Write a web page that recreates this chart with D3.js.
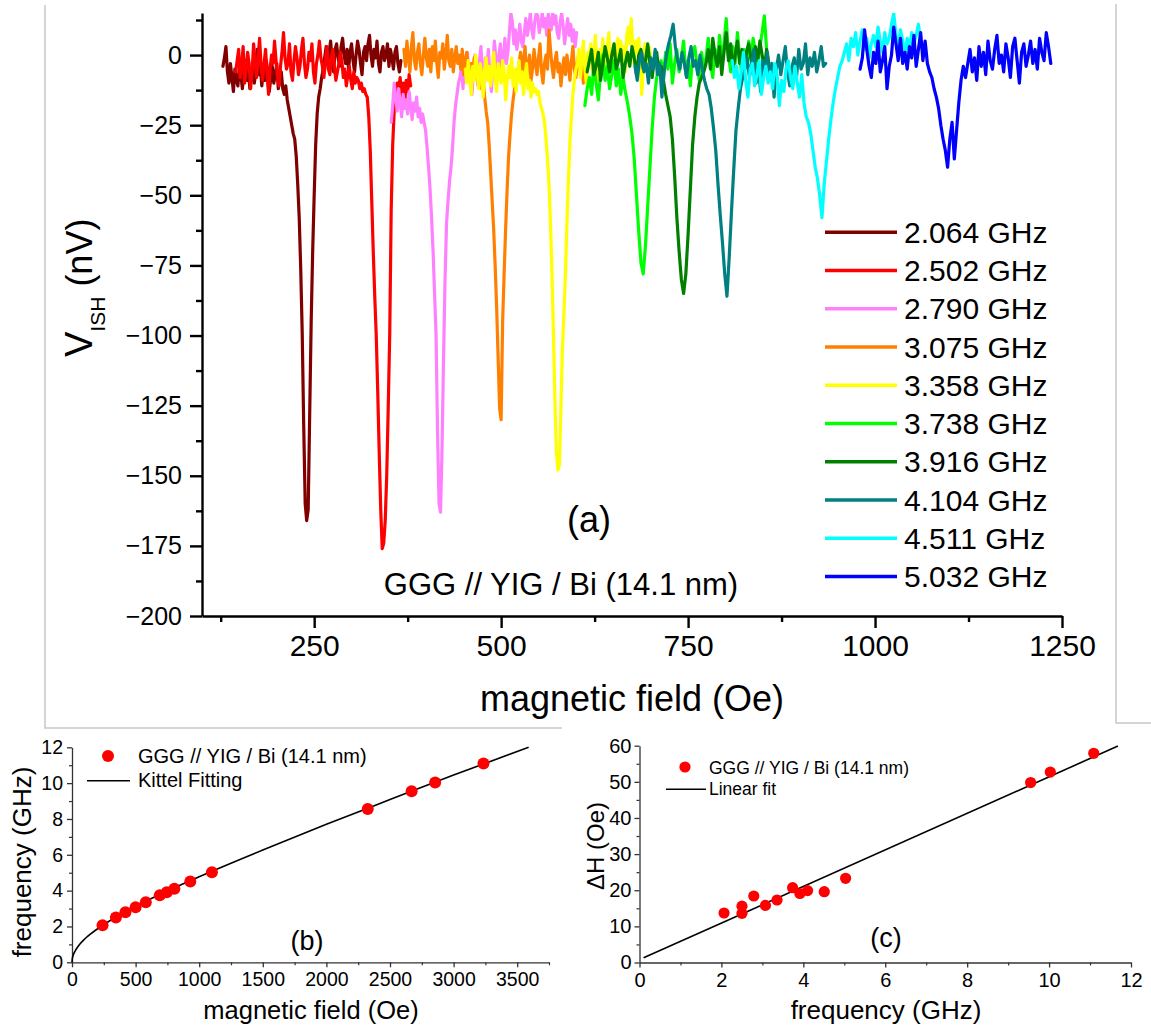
<!DOCTYPE html>
<html><head><meta charset="utf-8">
<script src="https://cdn.jsdelivr.net/npm/d3@7"></script>
<style>
body{margin:0;background:#fff;}
svg{display:block;font-family:"Liberation Sans",Arial,Helvetica,sans-serif;}
</style></head><body>
<svg id="fig" width="1151" height="1033"></svg>
<script>
// ---------------- DATA ----------------
// Panel (a): ISHE voltage spectra, one per microwave frequency
const freqLabels = ["2.064 GHz","2.502 GHz","2.790 GHz","3.075 GHz","3.358 GHz","3.738 GHz","3.916 GHz","4.104 GHz","4.511 GHz","5.032 GHz"];
// field sweep: first field (Oe) and field step (Oe) of each spectrum
const sweepStart = [128, 145, 353, 370, 452, 612, 615, 679, 809, 980];
const sweepStep  = [2, 2, 2, 2, 2, 3, 3, 3, 3, 3];
// V_ISH (nV) read along each sweep
const v2064 = [-4,-1,3,-6,-10,-3,-8,-13,-5,-9,-11,-4,-7,-12,-6,-2,-9,-5,-12,-8,-3,-10,-6,2,-7,-4,-11,-5,-9,-2,-6,-13,-8,-4,-10,-7,-3,-12,-9,-6,
 -12,-14,-11,-16,-19,-22,-25,-28,-30,-36,-46,-58,-76,-99,-132,-160,-166,-162,-128,-95,-70,-50,-32,-21,-15,-12,-8,
 -5,-1,3,-3,1,5,-2,-6,2,4,-1,-4,3,6,0,-3,2,-5,1,4,-2,-6,0,5,2,-3,-7,1,3,-2,4,7,0,-4,2,-1,5,-3,-6,1,3,-2,0,4,-4,2,-1,-5,1,3,-3,-6,-2];
const v2502 = [-6,-2,2,-8,-4,3,-10,-5,1,-3,-12,-6,4,-2,-8,-1,6,-4,-9,-3,2,-7,-14,-5,0,-3,5,-2,-8,-11,-4,1,8,-1,-5,-3,4,-6,-9,-2,3,-1,-7,-4,2,6,-3,-8,-5,1,-2,4,-6,-10,-3,0,5,-1,-4,-8,-2,3,-5,-7,-1,2,-4,-9,-6,-3,1,-2,-8,-5,-11,-7,-4,-9,-12,-6,-10,-8,
 -9,-12,-10,-13,-12,-14,-15,-22,-34,-52,-70,-86,-100,-120,-142,-162,-176,-174,-166,-150,-126,-100,-55,-32,-20,-14,-10,
 -12,-8,-15,-10,-18,-9,-13,-7,-11];
const v2790 = [-24,-18,-10,-15,-20,-12,-17,-22,-14,-19,-16,-21,-13,-18,-23,-17,-20,-15,-22,-19,-24,-21,
 -24,-27,-33,-40,-48,-58,-70,-85,-100,-135,-160,-163,-140,-108,-80,-60,-52,-45,-40,-33,-24,-18,-14,-10,
 -8,-4,-12,-2,-6,1,-9,-3,-14,-5,0,-7,-11,-2,3,-6,-10,-1,-4,2,-8,-13,-3,5,-1,-7,0,4,-5,-2,6,-3,1,
 8,15,12,4,9,2,6,11,5,3,8,13,7,10,15,9,6,12,15,14,8,11,15,10,13,7,15,12,9,15,11,14,8,6,12,15,10,4,9,13,7,11,5,9,3,8];
const v3075 = [2,-4,5,-1,-6,3,8,-2,-5,1,4,-3,-7,0,6,-1,-4,2,-6,3,-2,5,-3,-8,1,-1,4,-5,0,7,-2,-4,2,-6,-1,3,-3,0,-5,2,-7,-2,1,-4,-9,-3,-6,-1,-8,-5,-10,-7,-12,-9,
 -15,-20,-24,-32,-42,-52,-62,-75,-90,-108,-126,-130,-95,-78,-62,-48,-36,-28,-21,-16,-12,-8,-6,
 -3,1,-6,-2,3,-8,-4,0,-9,-5,2,-3,-7,-1,4,-6,-10,-3,0,-5,9,2,-4,-8,-2,1,-6,-3,-11,-5,-1,-7,0,-4,-9,-2,3,-5,-8,-3,1,-6,-2,-10,-4,-7,-3];
const v3358 = [-5,-10,-2,-8,-14,-4,-9,0,-6,-12,-3,-7,-15,-5,-1,-9,-4,-11,-6,1,-8,-13,-3,-7,-10,-2,-6,-16,-9,-4,-8,-1,-11,-5,-13,-7,-2,-10,-6,-14,-8,-3,-12,-9,-15,-10,-13,
 -12,-14,-13,-17,-19,-21,-24,-30,-37,-46,-60,-78,-100,-124,-142,-148,-146,-125,-104,-92,-78,-60,-44,-31,-22,-14,-9,-5,
 -3,2,-8,-1,5,-5,-10,1,-2,4,-6,0,7,-3,-9,2,-4,6,-1,-7,3,8,-2,-5,1,4,-4,6,2,5,-1,3,-6,7,10,4,13,2,-3,5,1,6,-2,-14,-5,4,0,-4,3,-1];
const v3738 = [-18,-12,-8,-14,-3,-10,-16,-6,0,-9,-4,-12,-7,-2,-11,-5,-14,-8,-13,
 -17,-22,-28,-37,-50,-63,-74,-78,-68,-54,-40,-26,-15,-8,-4,
 -2,-8,1,-5,4,-10,-3,2,-6,-1,5,-7,-2,-11,0,3,-4,-9,1,-5,-1,6,-3,-8,2,-4,7,-2,4,13,0,-6,3,-3,8,-1,-7,2,-4,5,-2,6,1,-5,3,8,14,2];
const v3916 = [-6,-2,2,-7,-4,1,-9,-3,3,-1,-6,0,4,-5,-2,2,-8,-3,1,-4,3,-1,-7,0,2,-5,-2,4,-3,-8,-1,1,-6,-4,-9,
 -14,-18,-22,-30,-43,-58,-70,-80,-85,-78,-64,-48,-32,-22,-15,-10,-8,-6,
 -3,2,-5,6,0,-4,3,-7,1,8,-2,4,-5,0,5,-3,2,-6,1,4,-1,-4,3,-2,5,0,-5,2,-3];
const v4104 = [-4,-9,-2,1,-6,-3,-10,-1,-5,2,-7,-3,-15,-6,0,4,7,11,3,-2,-5,1,-3,-8,-1,3,-4,-2,-7,0,-5,-9,-12,
 -14,-19,-26,-34,-46,-57,-67,-78,-86,-72,-56,-41,-27,-19,-12,-8,
 -5,-1,-8,-3,2,-10,-4,-13,-2,-6,1,-9,-3,-15,-5,0,-7,-2,3,-6,-11,-4,-1,-8,2,-5,-3,4,-7,-1,-4,1,-6,-2,3,-4,-3];
const v4511 = [-2,-8,-4,-12,-6,1,-9,-15,-5,-3,-11,-7,-2,-14,-8,-4,-10,-6,-12,-3,-7,-18,-9,-13,-5,-2,-8,-12,-4,-10,-15,-7,
 -17,-22,-24,-28,-34,-40,-44,-50,-58,-46,-38,-30,-23,-17,-12,-8,-4,-2,
 1,4,-2,6,3,8,0,5,9,2,6,-1,4,7,3,10,5,1,8,4,6,11,15,7,3,9,5,0,6,2,8,4,7,11,5,3];
const v5032 = [-5,-1,9,2,-4,-8,1,-3,5,-6,-2,3,-12,-4,0,10,4,-2,6,-3,1,-5,3,-1,7,-4,2,8,-2,5,-3,-6,
 -8,-12,-15,-19,-25,-30,-34,-40,-30,-24,-37,-27,-17,-9,-4,
 -8,-3,2,-6,-1,-9,3,-4,1,-7,5,-2,-5,2,7,-3,0,-6,4,-1,-8,3,6,-2,-10,1,4,-4,0,5,-3,2,-5,6,1,-2,8,3,-3];
const spectra = [v2064, v2502, v2790, v3075, v3358, v3738, v3916, v4104, v4511, v5032];
const xTicksA = [250, 500, 750, 1000, 1250];
const yTicksA = [-200, -175, -150, -125, -100, -75, -50, -25, 0];

// Panel (b): resonance field vs frequency
const resField = [240, 345, 420, 500, 580, 690, 745, 805, 930, 1100, 2325, 2670, 2855, 3235];
const resFreq  = [2.064, 2.502, 2.790, 3.075, 3.358, 3.738, 3.916, 4.104, 4.511, 5.032, 8.56, 9.55, 10.03, 11.09];
const kittelField = [0, 2, 10, 20, 50, 100, 150, 250, 400, 600, 800, 1000, 1500, 2000, 2500, 3000, 3590];
const kittelFreq  = [0, 0.18, 0.40, 0.57, 0.91, 1.30, 1.60, 2.11, 2.74, 3.48, 4.15, 4.78, 6.27, 7.70, 9.08, 10.45, 12.0];
const xTicksB = [0, 500, 1000, 1500, 2000, 2500, 3000, 3500];
const yTicksB = [0, 2, 4, 6, 8, 10, 12];

// Panel (c): linewidth vs frequency
const lwFreq  = [2.064, 2.502, 2.502, 2.790, 3.075, 3.358, 3.738, 3.916, 4.104, 4.511, 5.032, 9.55, 10.03, 11.09];
const lwWidth = [13.7, 15.6, 13.6, 18.4, 15.8, 17.3, 20.7, 19.1, 19.9, 19.6, 23.3, 49.8, 52.7, 57.9];
const linFitFreq  = [0.1, 11.68];
const linFitWidth = [1.3, 59.9];
const xTicksC = [0, 2, 4, 6, 8, 10, 12];
const yTicksC = [0, 10, 20, 30, 40, 50, 60];

// ---------------- STYLES ----------------
const spectraColors = ["#800000","#ff0000","#ff80ff","#ff8000","#ffff00","#00ff00","#008000","#008080","#00ffff","#0000ff"];

// ---------------- DRAW ----------------
const svg = d3.select("#fig");

// faint frame around panel (a)
const frame = svg.append("g").attr("fill","none").attr("stroke","#c8c8c8").attr("stroke-width",1.5);
frame.append("path").attr("d","M45,5V728H562");
frame.append("path").attr("d","M1116,4V723H1151");

function styleAxis(g, fontSize, sw, keepDomain, color){
  g.attr("font-family", null).attr("font-size", fontSize).attr("color", color || "#000");
  g.selectAll("line").attr("stroke-width", sw);
  g.select(".domain").attr("stroke-width", sw);
  if(!keepDomain) g.select(".domain").remove();
  g.selectAll("text").attr("fill", "#000");
  return g;
}
const plain = d3.format("d");
const minus = d => d < 0 ? "\u2212" + Math.abs(d) : String(d);
function minorBetween(ticks){ const r=[]; for(let i=0;i<ticks.length-1;i++) r.push((ticks[i]+ticks[i+1])/2); return r; }

// ===== Panel (a) =====
const xA = d3.scaleLinear().domain([100,1250]).range([202,1062]);
const yA = d3.scaleLinear().domain([-200,15]).range([616,13]);
svg.append("clipPath").attr("id","clipA").append("rect")
  .attr("x",xA.range()[0]).attr("y",yA.range()[1])
  .attr("width",xA.range()[1]-xA.range()[0]).attr("height",yA.range()[0]-yA.range()[1]);
const lineA = d3.line().x(d=>xA(d[0])).y(d=>yA(d[1]));
const gA = svg.append("g").attr("clip-path","url(#clipA)");
spectra.forEach((vals,i)=>{
  const pts = vals.map((v,j)=>[sweepStart[i]+sweepStep[i]*j, v]);
  gA.append("path").datum(pts).attr("d",lineA).attr("fill","none")
    .attr("stroke",spectraColors[i]).attr("stroke-width",3.2)
    .attr("stroke-linejoin","round").attr("stroke-linecap","round");
});
const xMinorA = [125].concat(minorBetween(xTicksA));
const yMinorA = minorBetween(yTicksA).concat([12.5]);
styleAxis(svg.append("g").attr("transform","translate(0,616)")
  .call(d3.axisBottom(xA).tickValues(xMinorA).tickSize(6).tickFormat("")), 10, 2.4, false);
styleAxis(svg.append("g").attr("transform","translate(202,0)")
  .call(d3.axisLeft(yA).tickValues(yMinorA).tickSize(6).tickFormat("")), 10, 2.4, false);
styleAxis(svg.append("g").attr("transform","translate(0,616)")
  .call(d3.axisBottom(xA).tickValues(xTicksA).tickSizeInner(12).tickSizeOuter(0).tickPadding(7).tickFormat(plain)), 30, 2.4, true);
styleAxis(svg.append("g").attr("transform","translate(202,0)")
  .call(d3.axisLeft(yA).tickValues(yTicksA).tickSizeInner(12).tickSizeOuter(0).tickPadding(8).tickFormat(minus)), 25, 2.4, true);

// y title
const yt = svg.append("text").attr("transform","translate(92,357) rotate(-90)").attr("font-size",38).attr("fill","#000");
yt.append("tspan").text("V");
yt.append("tspan").attr("font-size",21).attr("dy",13).text("ISH");
yt.append("tspan").attr("font-size",36).attr("dy",-13).text(" (nV)");
svg.append("text").attr("x",632).attr("y",711).attr("text-anchor","middle").attr("font-size",36).text("magnetic field (Oe)");
svg.append("text").attr("x",589).attr("y",532).attr("text-anchor","middle").attr("font-size",36).text("(a)");
svg.append("text").attr("x",561).attr("y",595).attr("text-anchor","middle").attr("font-size",31).text("GGG // YIG / Bi (14.1 nm)");
const legA = svg.append("g");
freqLabels.forEach((lab,i)=>{
  const y = 232.3 + 38.25*i;
  legA.append("line").attr("x1",825).attr("x2",897).attr("y1",y).attr("y2",y)
    .attr("stroke",spectraColors[i]).attr("stroke-width",3.5);
  legA.append("text").attr("x",904).attr("y",y+10.5).attr("font-size",30).text(lab);
});

// ===== Panel (b) =====
const axisGray = "#333";
const xB = d3.scaleLinear().domain([0,3750]).range([72,549]);
const yB = d3.scaleLinear().domain([0,12]).range([962.3,747.3]);
styleAxis(svg.append("g").attr("transform",`translate(0,${yB(0)})`)
  .call(d3.axisBottom(xB).tickValues(xTicksB.map(d=>d+250)).tickSize(3).tickFormat("")), 10, 1.2, false, axisGray);
styleAxis(svg.append("g").attr("transform",`translate(${xB(0)},0)`)
  .call(d3.axisLeft(yB).tickValues(minorBetween(yTicksB)).tickSize(3).tickFormat("")), 10, 1.2, false, axisGray);
styleAxis(svg.append("g").attr("transform",`translate(0,${yB(0)})`)
  .call(d3.axisBottom(xB).tickValues(xTicksB).tickSizeInner(5).tickSizeOuter(0).tickPadding(5).tickFormat(plain)), 19.5, 1.3, true, axisGray);
styleAxis(svg.append("g").attr("transform",`translate(${xB(0)},0)`)
  .call(d3.axisLeft(yB).tickValues(yTicksB).tickSizeInner(5).tickSizeOuter(0).tickPadding(4)), 19.5, 1.3, true, axisGray);
const kittel = kittelField.map((h,i)=>[h,kittelFreq[i]]);
svg.append("path").datum(kittel).attr("fill","none").attr("stroke","#000").attr("stroke-width",1.6)
  .attr("d", d3.line().x(d=>xB(d[0])).y(d=>yB(d[1])).curve(d3.curveMonotoneX));
svg.append("g").selectAll("circle").data(resField.map((h,i)=>[h,resFreq[i]])).join("circle")
  .attr("cx",d=>xB(d[0])).attr("cy",d=>yB(d[1])).attr("r",6).attr("fill","#ff0000");
svg.append("text").attr("transform","translate(31,862) rotate(-90)").attr("text-anchor","middle").attr("font-size",26).text("frequency (GHz)");
svg.append("text").attr("x",311).attr("y",1019).attr("text-anchor","middle").attr("font-size",25.5).text("magnetic field (Oe)");
svg.append("text").attr("x",307).attr("y",950).attr("text-anchor","middle").attr("font-size",27).text("(b)");
svg.append("circle").attr("cx",108).attr("cy",756).attr("r",6).attr("fill","#ff0000");
svg.append("text").attr("x",138).attr("y",762.5).attr("font-size",20).text("GGG // YIG / Bi (14.1 nm)");
svg.append("line").attr("x1",87).attr("x2",130).attr("y1",780.7).attr("y2",780.7).attr("stroke","#000").attr("stroke-width",1.6);
svg.append("text").attr("x",138).attr("y",787).attr("font-size",20).text("Kittel Fitting");

// ===== Panel (c) =====
const xC = d3.scaleLinear().domain([0,12]).range([639.5,1131]);
const yC = d3.scaleLinear().domain([0,60]).range([962.5,745.7]);
styleAxis(svg.append("g").attr("transform",`translate(0,${yC(0)})`)
  .call(d3.axisBottom(xC).tickValues(minorBetween(xTicksC)).tickSize(3).tickFormat("")), 10, 1.2, false, axisGray);
styleAxis(svg.append("g").attr("transform",`translate(${xC(0)},0)`)
  .call(d3.axisLeft(yC).tickValues(minorBetween(yTicksC)).tickSize(3).tickFormat("")), 10, 1.2, false, axisGray);
styleAxis(svg.append("g").attr("transform",`translate(0,${yC(0)})`)
  .call(d3.axisBottom(xC).tickValues(xTicksC).tickSizeInner(5).tickSizeOuter(0).tickPadding(5)), 20, 1.3, true, axisGray);
styleAxis(svg.append("g").attr("transform",`translate(${xC(0)},0)`)
  .call(d3.axisLeft(yC).tickValues(yTicksC).tickSizeInner(5).tickSizeOuter(0).tickPadding(3)), 20, 1.3, true, axisGray);
svg.append("path").datum(linFitFreq.map((f,i)=>[f,linFitWidth[i]])).attr("fill","none").attr("stroke","#000").attr("stroke-width",1.6)
  .attr("d", d3.line().x(d=>xC(d[0])).y(d=>yC(d[1])));
svg.append("g").selectAll("circle").data(lwFreq.map((f,i)=>[f,lwWidth[i]])).join("circle")
  .attr("cx",d=>xC(d[0])).attr("cy",d=>yC(d[1])).attr("r",5.6).attr("fill","#ff0000");
svg.append("text").attr("transform","translate(604,846) rotate(-90)").attr("text-anchor","middle").attr("font-size",24).text("\u0394H (Oe)");
svg.append("text").attr("x",886).attr("y",1019).attr("text-anchor","middle").attr("font-size",26).text("frequency (GHz)");
svg.append("text").attr("x",886).attr("y",947).attr("text-anchor","middle").attr("font-size",27).text("(c)");
svg.append("circle").attr("cx",685).attr("cy",767).attr("r",5.6).attr("fill","#ff0000");
svg.append("text").attr("x",709).attr("y",773.5).attr("font-size",17.5).text("GGG // YIG / Bi (14.1 nm)");
svg.append("line").attr("x1",666).attr("x2",706).attr("y1",789.3).attr("y2",789.3).attr("stroke","#000").attr("stroke-width",1.6);
svg.append("text").attr("x",709).attr("y",795).attr("font-size",17.5).text("Linear fit");
</script>
</body></html>
